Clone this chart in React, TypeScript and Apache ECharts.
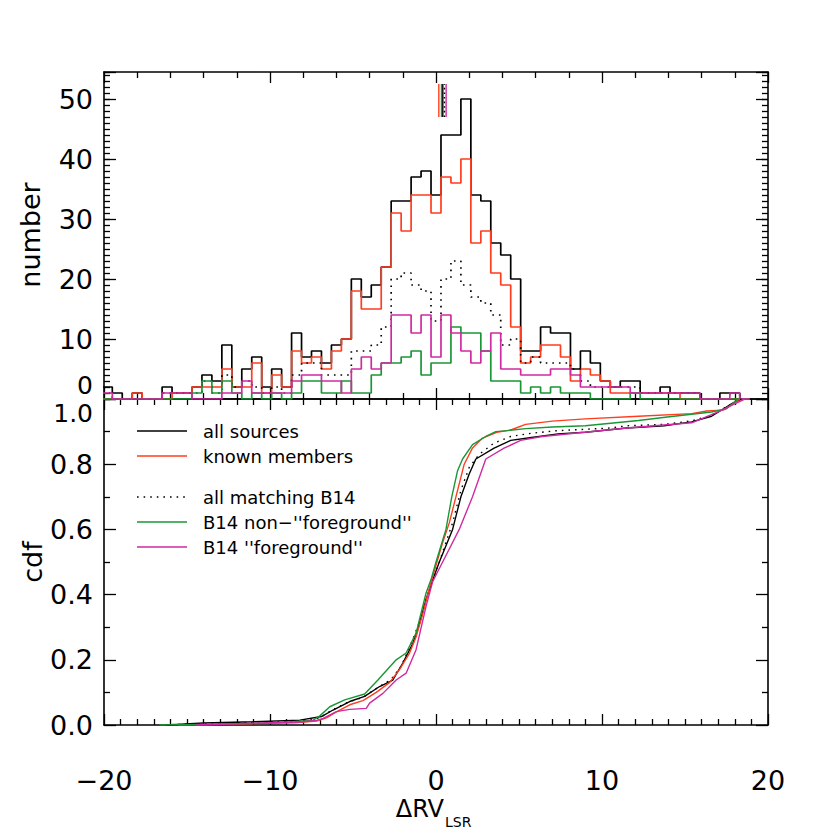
import React, { useEffect, useRef } from "react";
import * as echarts from "echarts";

// ---------- histogram binning (x grid only) ----------
const BIN_FIRST_CENTER = -19.8;
const BIN_WIDTH = 0.6;

// counts per bin, bins centred at -19.8, -19.2, ... , 18.6
const allSources = [
  2, 1, 0, 1, 0, 0, 2, 1, 1, 2, 4, 3, 9, 2, 5, 7, 2, 5, 2, 11, 7, 8, 6, 9, 10, 20, 17, 19, 22, 33, 33, 37, 38,
  34, 44, 44, 50, 34, 33, 26, 24, 20, 8, 8, 12, 11, 11, 5, 8, 6, 3, 2, 3, 3, 1, 1, 2, 1, 1, 1, 0, 0, 1, 1, 0,
];
const knownMembers = [
  0, 0, 0, 1, 0, 0, 0, 1, 1, 2, 2, 2, 5, 2, 2, 6, 1, 4, 2, 8, 6, 7, 5, 8, 10, 18, 15, 15, 22, 31, 28, 34, 34,
  31, 37, 36, 40, 26, 28, 21, 19, 12, 6, 7, 9, 9, 7, 3, 5, 4, 3, 1, 1, 1, 1, 1, 1, 1, 0, 0, 0, 0, 0, 0, 0,
];
const allMatchingB14 = [
  1, 0, 0, 0, 0, 0, 1, 1, 1, 1, 3, 1, 4, 2, 3, 2, 1, 2, 1, 4, 6, 6, 4, 4, 4, 8, 8, 9, 12, 20, 21, 19, 18,
  13, 20, 23, 19, 17, 16, 14, 9, 10, 6, 7, 6, 6, 6, 5, 3, 2, 2, 2, 2, 2, 1, 1, 1, 1, 1, 1, 0, 0, 0, 1, 0,
];
const b14NonForeground = [
  0, 0, 0, 0, 0, 0, 0, 0, 0, 1, 3, 1, 3, 1, 0, 1, 0, 1, 0, 1, 3, 3, 1, 1, 3, 1, 1, 4, 6, 6, 7, 8, 4,
  6, 6, 12, 11, 11, 8, 3, 3, 3, 1, 2, 1, 2, 1, 1, 1, 0, 0, 0, 0, 1, 0, 0, 0, 0, 0, 0, 0, 0, 0, 0, 0,
];
const b14Foreground = [
  1, 0, 0, 0, 0, 0, 1, 1, 1, 0, 0, 0, 1, 1, 3, 1, 1, 1, 1, 3, 4, 4, 3, 3, 1, 5, 7, 5, 6, 14, 14, 11, 14,
  7, 14, 11, 8, 6, 8, 11, 5, 5, 4, 4, 4, 5, 5, 4, 2, 2, 2, 2, 2, 1, 1, 1, 1, 1, 1, 1, 0, 0, 0, 1, 0,
];

// median markers (top panel): red, green, black, dotted, magenta
const medianKnown = 0.17;
const medianNonFg = 0.33;
const medianAll = 0.41;
const medianMatching = 0.51;
const medianFg = 0.61;
const MEDIAN_Y = [47, 52.5];

// ---------- cumulative distributions [ΔRV, cdf] ----------
const cdfAll = [
  [-16.2, 0], [-14, 0.006], [-11, 0.01], [-8.2, 0.015], [-6.9, 0.026], [-6.2, 0.046], [-5.2, 0.072],
  [-4.3, 0.088], [-3.4, 0.118], [-2.6, 0.138], [-2.0, 0.19], [-1.4, 0.25], [-1.0, 0.31], [-0.6, 0.385],
  [-0.2, 0.445], [0.2, 0.5], [0.6, 0.55], [1.0, 0.6], [1.5, 0.7], [2.0, 0.77], [2.4, 0.816], [3.5, 0.849],
  [4.5, 0.873], [5.75, 0.882], [7.35, 0.893], [9, 0.898], [11.5, 0.911], [13.75, 0.918], [15.4, 0.93],
  [16.6, 0.947], [17.9, 0.988], [18.4, 1.0],
];
const cdfKnown = [
  [-15.5, 0], [-12, 0.003], [-8.5, 0.007], [-7.2, 0.012], [-6.6, 0.022], [-6.0, 0.04], [-5.2, 0.062],
  [-4.4, 0.075], [-3.6, 0.1], [-2.8, 0.13], [-2.2, 0.17], [-1.6, 0.22], [-1.2, 0.27], [-0.8, 0.34],
  [-0.4, 0.42], [0, 0.49], [0.4, 0.56], [0.8, 0.62], [1.2, 0.7], [1.7, 0.8], [2.2, 0.85], [2.8, 0.88],
  [3.66, 0.898], [4.5, 0.905], [5.4, 0.922], [7, 0.932], [9, 0.939], [12.2, 0.947], [15.4, 0.955],
  [16.3, 0.963], [17.3, 0.966], [17.9, 0.985], [18.3, 1.0],
];
const cdfMatching = [
  [-16.7, 0], [-14, 0.004], [-11, 0.008], [-8.2, 0.012], [-7.0, 0.022], [-6.3, 0.045], [-5.4, 0.068],
  [-4.4, 0.085], [-3.5, 0.115], [-2.7, 0.14], [-2.1, 0.18], [-1.5, 0.25], [-1.0, 0.315], [-0.6, 0.385],
  [-0.2, 0.445], [0.2, 0.5], [0.6, 0.56], [1.0, 0.62], [1.5, 0.72], [2.0, 0.79], [2.6, 0.83], [3.5, 0.865],
  [4.5, 0.885], [5.75, 0.895], [7.35, 0.903], [10.5, 0.911], [11.5, 0.918], [13.75, 0.922], [15.4, 0.933],
  [16.6, 0.95], [17.9, 0.988], [18.4, 1.0],
];
const cdfNonFg = [
  [-16.7, 0], [-14, 0.002], [-11, 0.005], [-8.5, 0.01], [-7.4, 0.015], [-7.0, 0.028], [-6.4, 0.056],
  [-5.5, 0.077], [-4.3, 0.095], [-3.5, 0.138], [-2.4, 0.2], [-1.8, 0.221], [-1.2, 0.282], [-0.6, 0.405],
  [-0.3, 0.446], [0, 0.5], [0.3, 0.55], [0.6, 0.6], [0.95, 0.7], [1.3, 0.78], [1.6, 0.816], [2.2, 0.86],
  [3.0, 0.885], [3.6, 0.9], [4.3, 0.903], [5.4, 0.909], [7, 0.914], [9, 0.918], [12.2, 0.934],
  [13.8, 0.944], [16.6, 0.96], [17.5, 0.97], [18.2, 1.0],
];
const cdfFg = [
  [-14.5, 0], [-12, 0.004], [-8.2, 0.009], [-7.2, 0.014], [-6.8, 0.02], [-6.0, 0.041], [-5.2, 0.048],
  [-4.2, 0.051], [-4.0, 0.067], [-3.2, 0.097], [-2.4, 0.138], [-1.8, 0.159], [-1.2, 0.231], [-0.6, 0.364],
  [-0.2, 0.44], [0.2, 0.48], [0.7, 0.53], [1.4, 0.6], [2.2, 0.7], [3.0, 0.816], [4.1, 0.849], [5.1, 0.873],
  [6.4, 0.885], [8.95, 0.898], [11.5, 0.911], [15.4, 0.927], [16.96, 0.96], [18.0, 0.985], [18.6, 1.0],
];

const legendLabels = [
  "all sources",
  "known members",
  "all matching B14",
  "B14 non\u2212''foreground''",
  "B14 ''foreground''",
];

const C_BLACK = "#000000";
const C_RED = "#ff3d1f";
const C_GREEN = "#1b9636";
const C_MAG = "#cf2aa3";
const FONT = "DejaVu Sans";

function stepData(counts: number[]) {
  const pts: number[][] = [];
  counts.forEach((v, i) => {
    const c = BIN_FIRST_CENTER + i * BIN_WIDTH;
    pts.push([+(c - BIN_WIDTH / 2).toFixed(3), v], [+(c + BIN_WIDTH / 2).toFixed(3), v]);
  });
  return pts;
}

const tickStyle = { color: "#000", width: 1.3 };
const lineStyleAxis = { color: "#000", width: 1.6 };

function xAxisDef(gridIndex: number, position: string, minorSplit: number, showLabel: boolean) {
  return {
    type: "value",
    gridIndex,
    position,
    min: -20,
    max: 20,
    interval: 10,
    axisLine: { show: true, onZero: false, lineStyle: lineStyleAxis },
    axisTick: { show: true, inside: true, length: 11, lineStyle: tickStyle },
    minorTick: { show: true, splitNumber: minorSplit, length: 6, lineStyle: tickStyle },
    splitLine: { show: false },
    minorSplitLine: { show: false },
    axisLabel: showLabel
      ? {
          show: true,
          margin: 44,
          fontSize: 27,
          lineHeight: 22,
          fontFamily: FONT,
          color: "#000",
          formatter: (v: number) => String(v).replace("-", "\u2212"),
        }
      : { show: false },
  };
}

function yTopMajor(position: string, showLabel: boolean) {
  return {
    type: "value",
    gridIndex: 0,
    position,
    min: 0,
    max: 54.5,
    interval: 10,
    axisLine: { show: true, onZero: false, lineStyle: lineStyleAxis },
    axisTick: { show: true, inside: true, length: 12, lineStyle: tickStyle },
    splitLine: { show: false },
    axisLabel: showLabel
      ? {
          show: true,
          margin: 11,
          fontSize: 27,
          fontFamily: FONT,
          color: "#000",
          formatter: (v: number) => (v > 0 && v % 10 === 0 ? String(v) : ""),
        }
      : { show: false },
  };
}

function yTopMinor(position: string) {
  return {
    type: "value",
    gridIndex: 0,
    position,
    min: 0,
    max: 54.5,
    interval: 1,
    axisLine: { show: false, onZero: false },
    axisTick: { show: true, inside: true, length: 6, lineStyle: tickStyle },
    splitLine: { show: false },
    axisLabel: { show: false },
  };
}

function yBottom(position: string, showLabel: boolean) {
  return {
    type: "value",
    gridIndex: 1,
    position,
    min: 0,
    max: 1,
    interval: 0.2,
    axisLine: { show: true, onZero: false, lineStyle: lineStyleAxis },
    axisTick: { show: true, inside: true, length: 12, lineStyle: tickStyle },
    minorTick: { show: true, splitNumber: 2, length: 6, lineStyle: tickStyle },
    splitLine: { show: false },
    minorSplitLine: { show: false },
    axisLabel: showLabel
      ? {
          show: true,
          margin: 11,
          fontSize: 27,
          fontFamily: FONT,
          color: "#000",
          formatter: (v: number) => (v >= 0.99 ? "" : v.toFixed(1)),
        }
      : { show: false },
  };
}

function histSeries(name: string, counts: number[], color: string, dashed = false) {
  return {
    name,
    type: "line",
    xAxisIndex: 0,
    yAxisIndex: 0,
    data: stepData(counts),
    showSymbol: false,
    clip: true,
    lineStyle: { color, width: 1.7, type: dashed ? [1.6, 5] : "solid" },
    z: 3,
  };
}

function cdfSeries(name: string, pts: number[][], color: string, dashed = false) {
  return {
    name,
    type: "line",
    xAxisIndex: 2,
    yAxisIndex: 4,
    data: pts,
    showSymbol: false,
    clip: true,
    lineStyle: { color, width: 1.4, type: dashed ? [1.6, 5] : "solid" },
    z: 3,
  };
}

function medianSeries(x: number, color: string, dashed = false) {
  return {
    type: "line",
    xAxisIndex: 0,
    yAxisIndex: 0,
    data: [
      [x, MEDIAN_Y[0]],
      [x, MEDIAN_Y[1]],
    ],
    showSymbol: false,
    lineStyle: { color, width: 1.4, type: dashed ? [1.6, 3] : "solid" },
    z: 4,
  };
}

export default function App() {
  const ref = useRef<HTMLDivElement>(null);

  useEffect(() => {
    if (!ref.current) return;
    const chart = echarts.init(ref.current, undefined, { renderer: "svg" });

    const legendColors = [C_BLACK, C_RED, C_BLACK, C_GREEN, C_MAG];
    const legendY = [431, 456, 497, 522, 547];
    const legendGraphics: any[] = [];
    legendLabels.forEach((label, i) => {
      legendGraphics.push({
        type: "line",
        shape: { x1: 137, y1: legendY[i], x2: 187, y2: legendY[i] },
        style: { stroke: legendColors[i], lineWidth: 1.5, lineDash: i === 2 ? [1.6, 5] : null },
      });
      legendGraphics.push({
        type: "text",
        x: 203,
        y: legendY[i],
        style: {
          text: label,
          fontSize: 18,
          fontFamily: FONT,
          fill: "#000",
          verticalAlign: "middle",
          align: "left",
        },
      });
    });

    const option: any = {
      animation: false,
      backgroundColor: "#ffffff",
      grid: [
        { left: 104, top: 72, width: 664, height: 327, containLabel: false },
        { left: 104, top: 399, width: 664, height: 326, containLabel: false },
      ],
      xAxis: [
        xAxisDef(0, "bottom", 5, false),
        xAxisDef(0, "top", 5, false),
        xAxisDef(1, "bottom", 10, true),
        xAxisDef(1, "top", 10, false),
      ],
      yAxis: [
        yTopMajor("left", true),
        yTopMinor("left"),
        yTopMajor("right", false),
        yTopMinor("right"),
        yBottom("left", true),
        yBottom("right", false),
      ],
      series: [
        histSeries("all sources", allSources, C_BLACK),
        histSeries("known members", knownMembers, C_RED),
        histSeries("all matching B14", allMatchingB14, C_BLACK, true),
        histSeries("B14 non-foreground", b14NonForeground, C_GREEN),
        histSeries("B14 foreground", b14Foreground, C_MAG),
        medianSeries(medianKnown, C_RED),
        medianSeries(medianNonFg, C_GREEN),
        medianSeries(medianAll, C_BLACK),
        medianSeries(medianMatching, C_BLACK, true),
        medianSeries(medianFg, C_MAG),
        cdfSeries("all sources cdf", cdfAll, C_BLACK),
        cdfSeries("all matching cdf", cdfMatching, C_BLACK, true),
        cdfSeries("known members cdf", cdfKnown, C_RED),
        cdfSeries("non-foreground cdf", cdfNonFg, C_GREEN),
        cdfSeries("foreground cdf", cdfFg, C_MAG),
      ],
      graphic: [
        ...legendGraphics,
        {
          type: "text",
          x: 30,
          y: 235,
          rotation: Math.PI / 2,
          style: { text: "number", fontSize: 27, fontFamily: FONT, fill: "#000", align: "center", verticalAlign: "middle" },
        },
        {
          type: "text",
          x: 32,
          y: 562,
          rotation: Math.PI / 2,
          style: { text: "cdf", fontSize: 27, fontFamily: FONT, fill: "#000", align: "center", verticalAlign: "middle" },
        },
        {
          type: "text",
          x: 93,
          y: 385,
          style: { text: "0", fontSize: 25, lineHeight: 19, fontFamily: FONT, fill: "#000", align: "right", verticalAlign: "middle" },
        },
        {
          type: "text",
          x: 93,
          y: 413,
          style: { text: "1.0", fontSize: 25, lineHeight: 19, fontFamily: FONT, fill: "#000", align: "right", verticalAlign: "middle" },
        },
        {
          type: "text",
          x: 444,
          y: 809,
          style: { text: "\u0394RV", fontSize: 24, lineHeight: 19, fontFamily: FONT, fill: "#000", align: "right", verticalAlign: "middle" },
        },
        {
          type: "text",
          x: 445,
          y: 822,
          style: { text: "LSR", fontSize: 14, lineHeight: 12, fontFamily: FONT, fill: "#000", align: "left", verticalAlign: "middle" },
        },
      ],
    };

    chart.setOption(option);
    return () => chart.dispose();
  }, []);

  return <div ref={ref} style={{ position: "absolute", left: 0, top: 0, width: 830, height: 830 }} />;
}
